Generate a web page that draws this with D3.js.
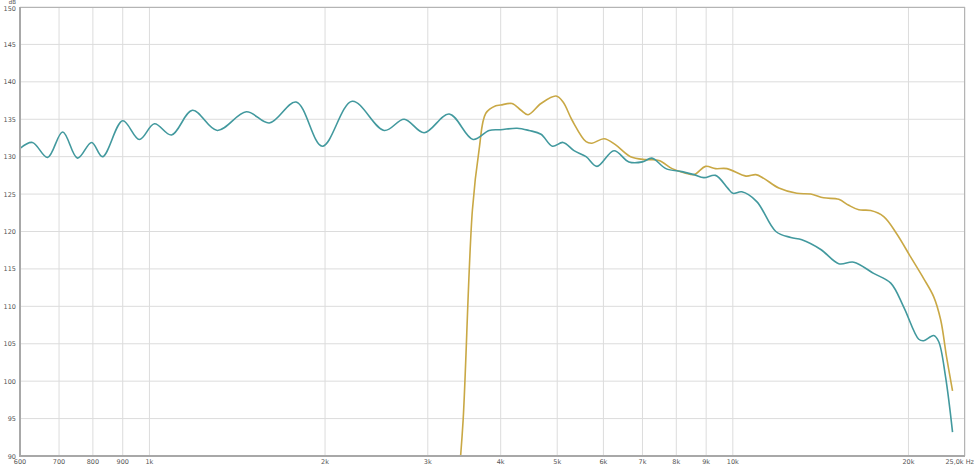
<!DOCTYPE html>
<html><head><meta charset="utf-8">
<script src="https://cdn.jsdelivr.net/npm/d3@7"></script>
<style>html,body{margin:0;padding:0;background:#fff;}svg{display:block;font-family:"DejaVu Sans",Arial,sans-serif;}</style>
</head><body><svg id="c" width="975" height="467"></svg>
<script>
// Frequency ticks (Hz) and labels
const xTicks = [600,700,800,900,1000,2000,3000,4000,5000,6000,7000,8000,9000,10000,20000,25000];
const xTickLabels = ["600","700","800","900","1k","2k","3k","4k","5k","6k","7k","8k","9k","10k","20k","25,0k Hz"];
const yTicks = [90,95,100,105,110,115,120,125,130,135,140,145,150];

// Teal series: frequency (Hz) and level (dB)
const tealFreq = [600,630,669,710,753,796,831,900,961,1020,1091,1185,1307,1466,1605,1784,1978,2226,2526,2733,2957,3264,3587,3821,4000,4267,4474,4690,4905,5117,5343,5603,5850,6255,6636,7000,7265,7680,8180,8580,8920,9340,9800,10000,10360,10990,11850,12570,13130,14150,15190,16120,17430,18650,19630,20830,21240,22090,22530,23150,23800];
const tealDb   = [131.1,131.9,129.9,133.3,129.8,131.9,130.0,134.8,132.3,134.4,132.9,136.2,133.5,136.0,134.5,137.3,131.4,137.4,133.5,135.0,133.2,135.7,132.3,133.5,133.6,133.8,133.5,133.0,131.4,131.9,130.8,130.0,128.7,130.8,129.3,129.3,129.8,128.4,128.0,127.6,127.2,127.5,125.8,125.1,125.3,124.0,120.0,119.2,118.9,117.6,115.7,115.9,114.4,113.1,109.9,105.6,105.4,106.1,105.3,100.6,93.2];

// Gold series
const goldFreq = [3390,3449,3578,3673,3772,3924,4000,4184,4335,4457,4690,4977,5117,5300,5603,5735,6015,6290,6680,7090,7470,7870,8300,8580,8980,9340,9770,10530,10950,11300,11990,12870,13600,14310,15190,15800,16440,17230,18140,19090,20170,21240,22090,22710,23250,23800];
const goldDb   = [87.0,94.8,122.9,130.9,135.8,136.8,136.9,137.1,136.2,135.6,137.1,138.1,137.3,134.9,132.0,131.8,132.4,131.6,130.0,129.6,129.5,128.4,127.8,127.6,128.7,128.4,128.4,127.4,127.6,127.1,125.8,125.1,125.0,124.5,124.3,123.5,122.9,122.8,122.0,119.7,116.6,113.7,111.3,108.2,103.2,98.7];

const svg = d3.select("#c");
const L = 20, R = 965, T = 7, B = 456;
const x = d3.scaleLog().domain([600, 25000]).range([L, R]);
const y = d3.scaleLinear().domain([90, 150]).range([B, T]);

// grid
svg.append("g").selectAll("line").data(xTicks).join("line")
  .attr("x1", d => x(d)).attr("x2", d => x(d)).attr("y1", T).attr("y2", B)
  .attr("stroke", "#dcdcdc").attr("stroke-width", 1);
svg.append("g").selectAll("line").data(yTicks).join("line")
  .attr("x1", L).attr("x2", R).attr("y1", d => y(d)).attr("y2", d => y(d))
  .attr("stroke", "#dcdcdc").attr("stroke-width", 1);

// clip
svg.append("clipPath").attr("id", "clip").append("rect")
  .attr("x", L).attr("y", T).attr("width", R - L).attr("height", B - T);

const line = d3.line().x(d => x(d[0])).y(d => y(d[1])).curve(d3.curveCatmullRom.alpha(0.5));
const g = svg.append("g").attr("clip-path", "url(#clip)");
g.append("path").datum(goldFreq.map((f, i) => [f, goldDb[i]]))
  .attr("d", line).attr("fill", "none").attr("stroke", "#c9a845").attr("stroke-width", 1.6);
g.append("path").datum(tealFreq.map((f, i) => [f, tealDb[i]]))
  .attr("d", line).attr("fill", "none").attr("stroke", "#42999e").attr("stroke-width", 1.6);

// frame
svg.append("rect").attr("x", L + 0.5).attr("y", T + 0.5).attr("width", R - L - 1).attr("height", B - T - 1)
  .attr("fill", "none").attr("stroke", "#b4b4b4").attr("stroke-width", 1);
svg.append("line").attr("x1", L).attr("x2", L).attr("y1", T).attr("y2", B + 1)
  .attr("stroke", "#a8a8a8").attr("stroke-width", 2);
svg.append("line").attr("x1", L).attr("x2", R).attr("y1", B).attr("y2", B)
  .attr("stroke", "#a8a8a8").attr("stroke-width", 2);

// y labels
svg.append("g").selectAll("text").data(yTicks).join("text")
  .attr("x", 16).attr("y", d => y(d) + (d === 150 ? 3.5 : 2.5)).attr("text-anchor", "end")
  .attr("font-size", 6.5).attr("fill", "#555").text(d => d);
svg.append("text").attr("x", 16).attr("y", 4).attr("text-anchor", "end")
  .attr("font-size", 5.5).attr("fill", "#555").text("dB");

// x labels
svg.append("g").selectAll("text").data(xTicks).join("text")
  .attr("x", (d, i) => i === xTicks.length - 1 ? 974 : x(d))
  .attr("y", 464).attr("text-anchor", (d, i) => i === xTicks.length - 1 ? "end" : "middle")
  .attr("font-size", 6.5).attr("fill", "#555").text((d, i) => xTickLabels[i]);
</script></body></html>
